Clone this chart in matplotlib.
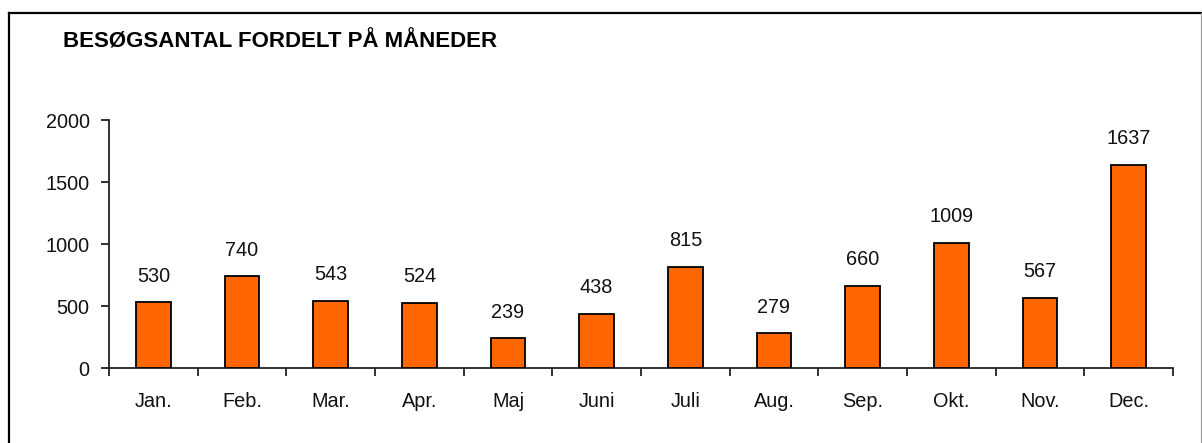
import matplotlib.pyplot as plt
from matplotlib.lines import Line2D
from matplotlib.ticker import FixedLocator, NullFormatter

months = ['Jan.', 'Feb.', 'Mar.', 'Apr.', 'Maj', 'Juni', 'Juli', 'Aug.', 'Sep.', 'Okt.', 'Nov.', 'Dec.']
visits = [530, 740, 543, 524, 239, 438, 815, 279, 660, 1009, 567, 1637]
y_ticks = [0, 500, 1000, 1500, 2000]

W, H = 1202, 443
plt.rcParams['font.family'] = ['Liberation Sans', 'DejaVu Sans']

fig = plt.figure(figsize=(W / 100, H / 100), dpi=100)
ax = fig.add_axes([109 / W, 1 - 368 / H, (1173 - 109) / W, (368 - 120) / H])

# Bars centred in each category slot
centers = [i + 0.5 for i in range(len(months))]
ax.bar(centers, visits, width=0.39, color='#FF6600', edgecolor='black', linewidth=1.3, zorder=3)

# Value labels above the bars
for x, v in zip(centers, visits):
    ax.annotate(str(v), (x, v), xytext=(0, 12), textcoords='offset points',
                ha='center', va='bottom', fontsize=14.3, color='#111111')

ax.set_xlim(0, 12)
ax.set_ylim(0, 2000)
ax.set_yticks(y_ticks)

# Tick marks at category boundaries, labels at centres
ax.xaxis.set_major_locator(FixedLocator(range(13)))
ax.xaxis.set_major_formatter(NullFormatter())
ax.xaxis.set_minor_locator(FixedLocator(centers))
ax.set_xticklabels(months, minor=True)
ax.tick_params(axis='x', which='major', direction='out', length=6, width=1.3, color='#222222')
ax.tick_params(axis='x', which='minor', length=0, pad=17.5, labelsize=14.3, labelcolor='#111111')
ax.tick_params(axis='y', direction='out', length=6, width=1.3, color='#222222', pad=8,
               labelsize=14.3, labelcolor='#111111')

for s in ['top', 'right']:
    ax.spines[s].set_visible(False)
for s in ['left', 'bottom']:
    ax.spines[s].set_linewidth(1.3)
    ax.spines[s].set_color('#222222')

# Title
fig.text(63 / W, 1 - 42 / H, 'BESØGSANTAL FORDELT PÅ MÅNEDER', fontsize=16,
         fontweight='bold', ha='left', va='center', color='black')

# Chart frame (left/top black, right grey)
fig.add_artist(Line2D([9 / W, 9 / W], [0, 1 - 13 / H], transform=fig.transFigure, color='black', linewidth=1.6))
fig.add_artist(Line2D([9 / W, 1201 / W], [1 - 13 / H, 1 - 13 / H], transform=fig.transFigure, color='black', linewidth=1.6))
fig.add_artist(Line2D([1200.5 / W, 1200.5 / W], [0, 1 - 13 / H], transform=fig.transFigure, color='#999999', linewidth=0.8))

fig.savefig('out.png', dpi=100)
